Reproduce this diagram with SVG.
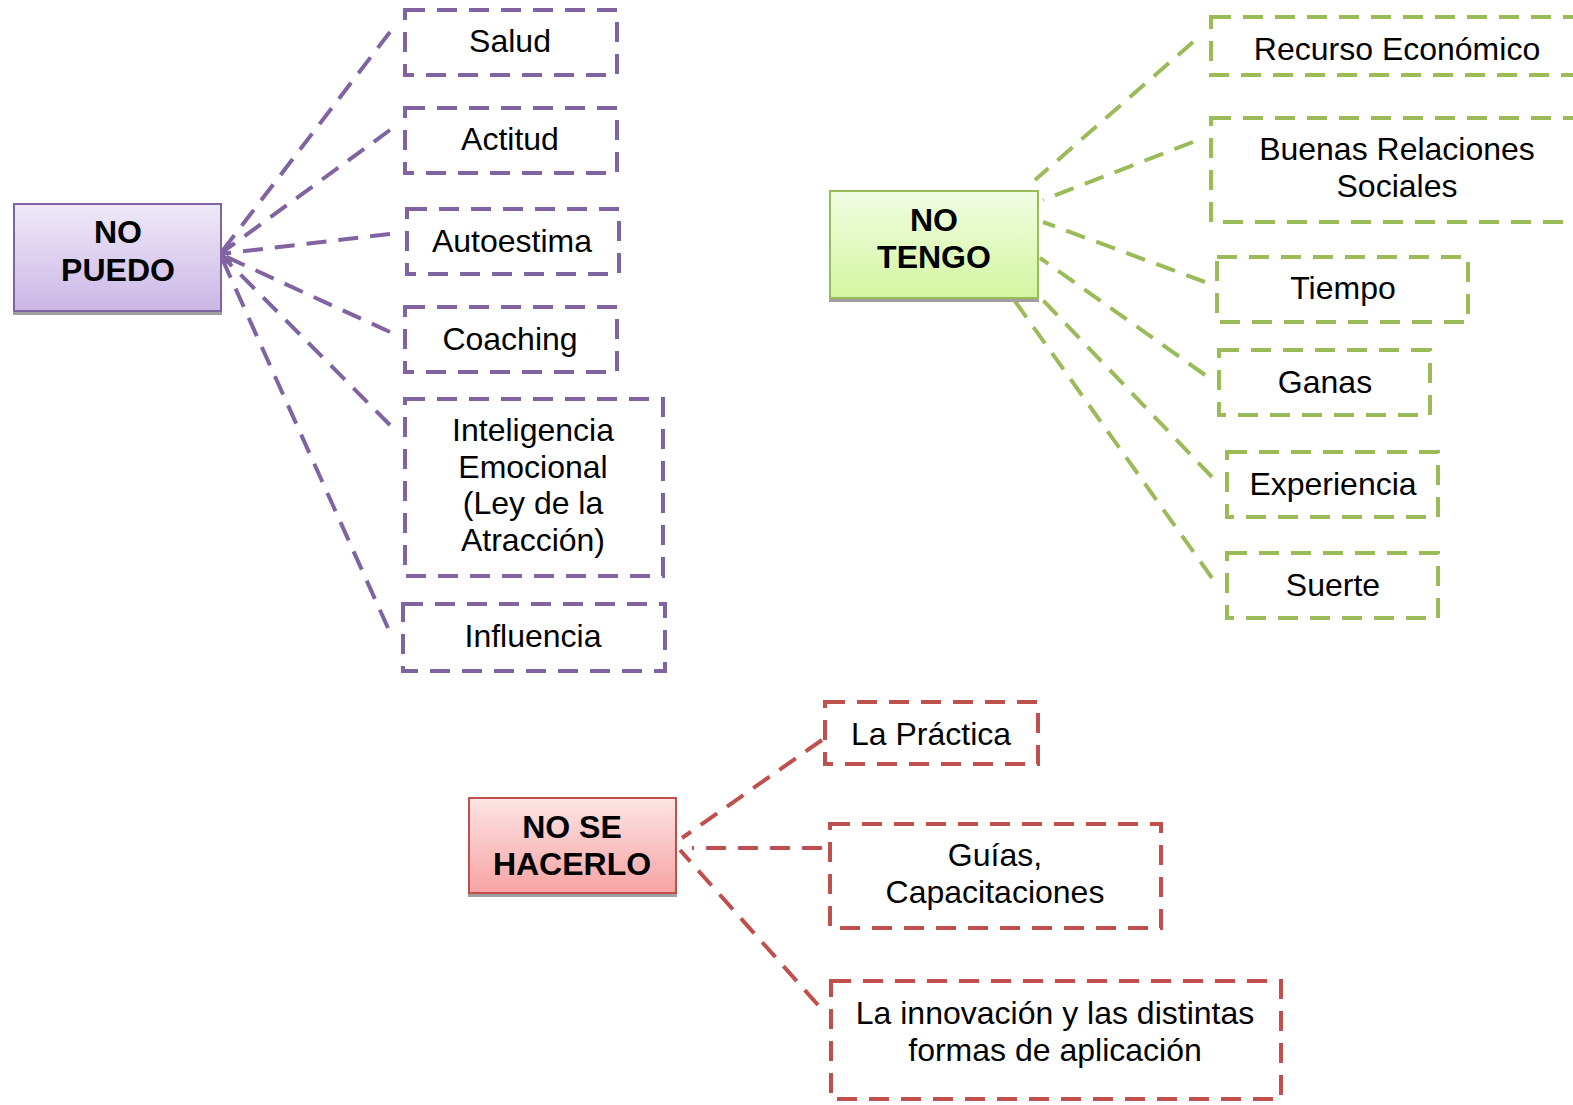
<svg xmlns="http://www.w3.org/2000/svg" width="1573" height="1105" viewBox="0 0 1573 1105">
<style>
.t{font-family:"Liberation Sans",Arial,sans-serif;font-size:32px;fill:#000;text-anchor:middle}
.b{font-family:"Liberation Sans",Arial,sans-serif;font-size:32px;font-weight:bold;fill:#000;text-anchor:middle}
.p{fill:none;stroke:#8064a2;stroke-width:4;stroke-dasharray:20 12}
.g{fill:none;stroke:#9bbb59;stroke-width:4;stroke-dasharray:20 12}
.r{fill:none;stroke:#c0504d;stroke-width:4;stroke-dasharray:20 12}
.sh{fill:#a0a0a0}
</style>
<defs>
<linearGradient id="gp" x1="0" y1="0" x2="0" y2="1"><stop offset="0" stop-color="#efe9f8"/><stop offset="1" stop-color="#cbb7e6"/></linearGradient>
<linearGradient id="gg" x1="0" y1="0" x2="0" y2="1"><stop offset="0" stop-color="#f1fce3"/><stop offset="1" stop-color="#d3f6a0"/></linearGradient>
<linearGradient id="gr" x1="0" y1="0" x2="0" y2="1"><stop offset="0" stop-color="#fde4e4"/><stop offset="1" stop-color="#f7a3a3"/></linearGradient>
</defs>
<rect width="1573" height="1105" fill="#fff"/>
<g id="connectors">
<path class="p" d="M390,32 L220,254 M390,130 L220,254 M390,234 L220,254 M390,332 L220,254 M390,425 L220,254 M388,628 L220,254"/>
<path d="M232,244 L219,254 L232,262" fill="none" stroke="#8064a2" stroke-width="4"/>
<path class="g" d="M1193,42 L1035,180 M1193,142 L1043,200 M1205,282 L1043,222 M1205,375 L1040,258 M1212,477 L1040,297 M1212,578 L1012,297"/>
<path class="r" d="M822,740 L682,838 M822,848 L692,848 M818,1005 L680,850"/>
</g>
<g id="no-puedo">
<rect class="sh" x="13" y="309" width="209" height="6"/>
<rect x="14" y="204" width="207" height="107" fill="url(#gp)" stroke="#8064a2" stroke-width="2"/>
<text class="b" x="118" y="243">NO</text>
<text class="b" x="118" y="281">PUEDO</text>
</g>
<g id="salud"><rect class="p" x="405" y="10" width="212" height="65"/><text class="t" x="510" y="52">Salud</text></g>
<g id="actitud"><rect class="p" x="405" y="108" width="212" height="65"/><text class="t" x="510" y="150">Actitud</text></g>
<g id="autoestima"><rect class="p" x="407" y="209" width="212" height="65"/><text class="t" x="512" y="252">Autoestima</text></g>
<g id="coaching"><rect class="p" x="405" y="307" width="212" height="65"/><text class="t" x="510" y="350">Coaching</text></g>
<g id="inteligencia"><rect class="p" x="405" y="399" width="258" height="177"/>
<text class="t" x="533" y="441">Inteligencia</text><text class="t" x="533" y="478">Emocional</text><text class="t" x="533" y="514">(Ley de la</text><text class="t" x="533" y="551">Atracción)</text></g>
<g id="influencia"><rect class="p" x="403" y="604" width="262" height="67"/><text class="t" x="533" y="647">Influencia</text></g>
<g id="no-tengo">
<rect class="sh" x="829" y="296" width="210" height="6"/>
<rect x="830" y="191" width="208" height="107" fill="url(#gg)" stroke="#9bbb59" stroke-width="2"/>
<text class="b" x="934" y="231">NO</text>
<text class="b" x="934" y="268">TENGO</text>
</g>
<g id="recurso"><rect class="g" x="1211" y="17" width="380" height="58"/><text class="t" x="1397" y="60">Recurso Económico</text></g>
<g id="buenas"><rect class="g" x="1211" y="118" width="380" height="104"/><text class="t" x="1397" y="160">Buenas Relaciones</text><text class="t" x="1397" y="197">Sociales</text></g>
<g id="tiempo"><rect class="g" x="1217" y="257" width="251" height="65"/><text class="t" x="1343" y="299">Tiempo</text></g>
<g id="ganas"><rect class="g" x="1219" y="350" width="211" height="65"/><text class="t" x="1325" y="393">Ganas</text></g>
<g id="experiencia"><rect class="g" x="1227" y="452" width="211" height="65"/><text class="t" x="1333" y="495">Experiencia</text></g>
<g id="suerte"><rect class="g" x="1227" y="553" width="211" height="65"/><text class="t" x="1333" y="596">Suerte</text></g>
<g id="no-se-hacerlo">
<rect class="sh" x="468" y="891" width="209" height="6"/>
<rect x="469" y="798" width="207" height="95" fill="url(#gr)" stroke="#c0504d" stroke-width="2"/>
<text class="b" x="572" y="838">NO SE</text>
<text class="b" x="572" y="875">HACERLO</text>
</g>
<g id="practica"><rect class="r" x="825" y="702" width="213" height="62"/><text class="t" x="931" y="745">La Práctica</text></g>
<g id="guias"><rect class="r" x="830" y="824" width="331" height="104"/><text class="t" x="995" y="866">Guías,</text><text class="t" x="995" y="903">Capacitaciones</text></g>
<g id="innovacion"><rect class="r" x="831" y="981" width="450" height="118"/><text class="t" x="1055" y="1024">La innovación y las distintas</text><text class="t" x="1055" y="1061">formas de aplicación</text></g>
</svg>
